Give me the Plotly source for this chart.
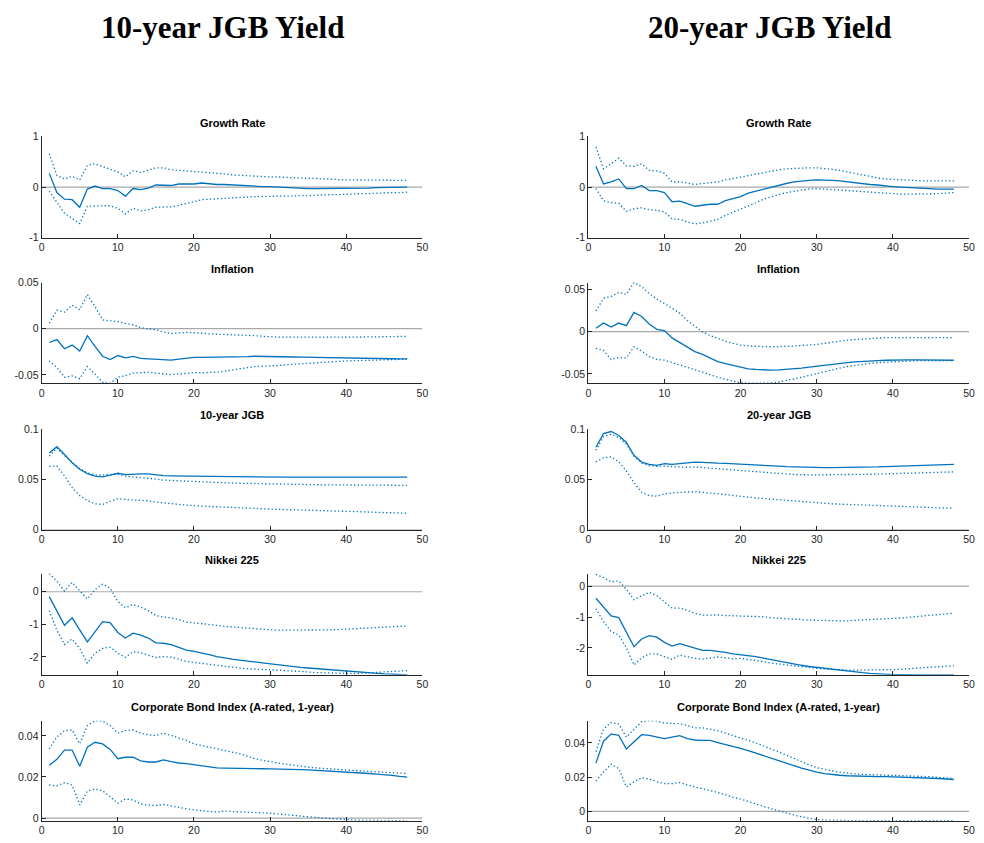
import plotly.graph_objects as go

# Horizon (periods after the shock)
horizon = list(range(1, 49))

# ---------------- 10-year JGB yield shock ----------------
growth_10_irf = [0.27, -0.11, -0.24, -0.25, -0.40, -0.04, 0.02, -0.03, -0.03, -0.07, -0.18, -0.03,
                 -0.05, -0.02, 0.04, 0.03, 0.03, 0.06, 0.06, 0.06, 0.08, 0.06, 0.05, 0.05,
                 0.04, 0.03, 0.03, 0.02, 0.01, 0.01, 0.00, -0.01, -0.02, -0.02, -0.03, -0.03,
                 -0.03, -0.03, -0.03, -0.03, -0.02, -0.02, -0.02, -0.01, -0.01, -0.01, 0.00, 0.00]
growth_10_hi = [0.66, 0.23, 0.16, 0.21, 0.14, 0.43, 0.46, 0.40, 0.35, 0.30, 0.20, 0.32,
                0.29, 0.33, 0.38, 0.38, 0.34, 0.33, 0.32, 0.31, 0.30, 0.29, 0.28, 0.26,
                0.24, 0.23, 0.22, 0.21, 0.21, 0.20, 0.20, 0.19, 0.19, 0.18, 0.17, 0.17,
                0.16, 0.16, 0.15, 0.14, 0.14, 0.14, 0.13, 0.13, 0.13, 0.13, 0.13, 0.13]
growth_10_lo = [-0.08, -0.30, -0.52, -0.62, -0.72, -0.38, -0.37, -0.37, -0.37, -0.42, -0.53, -0.42,
                -0.47, -0.45, -0.40, -0.40, -0.39, -0.36, -0.33, -0.29, -0.25, -0.24, -0.23, -0.22,
                -0.21, -0.20, -0.20, -0.19, -0.19, -0.18, -0.18, -0.18, -0.17, -0.17, -0.17, -0.16,
                -0.16, -0.15, -0.15, -0.14, -0.14, -0.13, -0.13, -0.12, -0.12, -0.11, -0.11, -0.10]

infl_10_irf = [-0.0149, -0.0117, -0.0217, -0.0177, -0.0241, -0.0075, -0.0190, -0.0298, -0.0333, -0.0290,
               -0.0316, -0.0300, -0.0320, -0.0326, -0.0326, -0.0337, -0.0340, -0.0330, -0.0316, -0.0310,
               -0.0310, -0.0310, -0.0310, -0.0310, -0.0310, -0.0305, -0.0302, -0.0298, -0.0298, -0.0300,
               -0.0302, -0.0304, -0.0306, -0.0308, -0.0310, -0.0311, -0.0313, -0.0315, -0.0317, -0.0320,
               -0.0321, -0.0322, -0.0323, -0.0324, -0.0325, -0.0325, -0.0326, -0.0326]
infl_10_hi = [0.0060, 0.0200, 0.0180, 0.0255, 0.0206, 0.0370, 0.0240, 0.0096, 0.0085, 0.0078,
              0.0057, 0.0043, 0.0014, -0.0004, -0.0010, -0.0036, -0.0053, -0.0046, -0.0039, -0.0043,
              -0.0050, -0.0057, -0.0060, -0.0062, -0.0064, -0.0068, -0.0072, -0.0075, -0.0082, -0.0089,
              -0.0090, -0.0091, -0.0092, -0.0092, -0.0092, -0.0092, -0.0092, -0.0092, -0.0092, -0.0092,
              -0.0091, -0.0091, -0.0090, -0.0089, -0.0088, -0.0086, -0.0084, -0.0082]
infl_10_lo = [-0.0348, -0.0420, -0.0525, -0.0510, -0.0540, -0.0410, -0.0490, -0.0580, -0.0590, -0.0525,
              -0.0510, -0.0480, -0.0476, -0.0470, -0.0480, -0.0490, -0.0497, -0.0490, -0.0480, -0.0476,
              -0.0476, -0.0476, -0.0470, -0.0460, -0.0450, -0.0437, -0.0422, -0.0410, -0.0408, -0.0405,
              -0.0398, -0.0390, -0.0384, -0.0377, -0.0370, -0.0366, -0.0362, -0.0358, -0.0353, -0.0348,
              -0.0346, -0.0344, -0.0341, -0.0339, -0.0337, -0.0334, -0.0332, -0.0330]

jgb_10_irf = [0.0762, 0.0824, 0.0746, 0.0664, 0.0599, 0.0557, 0.0531, 0.0524, 0.0541, 0.0560,
              0.0547, 0.0554, 0.0554, 0.0554, 0.0544, 0.0537, 0.0535, 0.0534, 0.0531, 0.0528,
              0.0526, 0.0524, 0.0523, 0.0522, 0.0521, 0.0521, 0.0521, 0.0521, 0.0521, 0.0521,
              0.0521, 0.0521, 0.0521, 0.0521, 0.0521, 0.0521, 0.0521, 0.0521, 0.0521, 0.0521,
              0.0521, 0.0521, 0.0521, 0.0521, 0.0521, 0.0521, 0.0521, 0.0521]
jgb_10_hi = [0.0730, 0.0811, 0.0736, 0.0668, 0.0606, 0.0564, 0.0544, 0.0544, 0.0544, 0.0550,
             0.0531, 0.0524, 0.0521, 0.0511, 0.0502, 0.0492, 0.0488, 0.0485, 0.0480, 0.0476,
             0.0473, 0.0471, 0.0468, 0.0466, 0.0463, 0.0461, 0.0459, 0.0457, 0.0455, 0.0453,
             0.0452, 0.0450, 0.0449, 0.0447, 0.0446, 0.0446, 0.0445, 0.0445, 0.0444, 0.0443,
             0.0443, 0.0442, 0.0442, 0.0441, 0.0441, 0.0440, 0.0440, 0.0440]
jgb_10_lo = [0.0629, 0.0632, 0.0534, 0.0420, 0.0339, 0.0290, 0.0257, 0.0251, 0.0283, 0.0306,
             0.0300, 0.0296, 0.0290, 0.0287, 0.0274, 0.0264, 0.0257, 0.0251, 0.0244, 0.0238,
             0.0234, 0.0231, 0.0228, 0.0224, 0.0221, 0.0218, 0.0215, 0.0211, 0.0208, 0.0205,
             0.0202, 0.0200, 0.0197, 0.0195, 0.0192, 0.0190, 0.0188, 0.0186, 0.0184, 0.0182,
             0.0180, 0.0178, 0.0176, 0.0175, 0.0173, 0.0170, 0.0167, 0.0163]

nikkei_10_irf = [-0.15, -0.58, -1.03, -0.80, -1.15, -1.54, -1.23, -0.92, -0.95, -1.25, -1.42, -1.27,
                 -1.33, -1.42, -1.57, -1.58, -1.62, -1.70, -1.79, -1.83, -1.87, -1.93, -1.99, -2.04,
                 -2.07, -2.10, -2.13, -2.16, -2.19, -2.22, -2.25, -2.27, -2.30, -2.32, -2.34, -2.36,
                 -2.38, -2.40, -2.42, -2.44, -2.46, -2.47, -2.49, -2.51, -2.52, -2.53, -2.54, -2.55]
nikkei_10_hi = [0.56, 0.33, 0.02, 0.29, 0.03, -0.22, 0.06, 0.23, 0.11, -0.30, -0.49, -0.39,
                -0.47, -0.58, -0.73, -0.78, -0.80, -0.85, -0.93, -0.95, -0.98, -1.01, -1.03, -1.06,
                -1.08, -1.11, -1.12, -1.14, -1.15, -1.17, -1.18, -1.18, -1.19, -1.19, -1.19, -1.18,
                -1.18, -1.17, -1.16, -1.15, -1.14, -1.13, -1.12, -1.11, -1.09, -1.08, -1.06, -1.05]
nikkei_10_lo = [-0.58, -1.18, -1.62, -1.45, -1.74, -2.19, -1.89, -1.74, -1.70, -1.89, -2.01, -1.84,
                -1.87, -1.94, -2.02, -1.99, -2.01, -2.07, -2.14, -2.17, -2.20, -2.24, -2.27, -2.29,
                -2.32, -2.34, -2.36, -2.37, -2.39, -2.40, -2.42, -2.43, -2.44, -2.45, -2.46, -2.48,
                -2.49, -2.50, -2.51, -2.51, -2.51, -2.50, -2.49, -2.48, -2.46, -2.45, -2.43, -2.42]

corp_10_irf = [0.0257, 0.0286, 0.0331, 0.0331, 0.0252, 0.0345, 0.0369, 0.0361, 0.0334, 0.0289,
               0.0296, 0.0296, 0.0278, 0.0273, 0.0273, 0.0283, 0.0275, 0.0268, 0.0265, 0.0260,
               0.0255, 0.0249, 0.0244, 0.0243, 0.0243, 0.0242, 0.0242, 0.0241, 0.0240, 0.0239,
               0.0239, 0.0238, 0.0237, 0.0236, 0.0235, 0.0233, 0.0232, 0.0230, 0.0228, 0.0225,
               0.0223, 0.0220, 0.0217, 0.0214, 0.0212, 0.0208, 0.0203, 0.0199]
corp_10_hi = [0.0337, 0.0395, 0.0425, 0.0429, 0.0361, 0.0450, 0.0474, 0.0472, 0.0450, 0.0414,
              0.0426, 0.0429, 0.0414, 0.0405, 0.0402, 0.0413, 0.0402, 0.0389, 0.0378, 0.0361,
              0.0353, 0.0345, 0.0337, 0.0329, 0.0321, 0.0313, 0.0301, 0.0289, 0.0281, 0.0273,
              0.0268, 0.0263, 0.0257, 0.0253, 0.0248, 0.0244, 0.0241, 0.0238, 0.0236, 0.0233,
              0.0231, 0.0229, 0.0227, 0.0225, 0.0223, 0.0221, 0.0219, 0.0217]
corp_10_lo = [0.0161, 0.0157, 0.0172, 0.0161, 0.0064, 0.0132, 0.0141, 0.0133, 0.0104, 0.0072,
              0.0093, 0.0088, 0.0069, 0.0063, 0.0061, 0.0066, 0.0059, 0.0051, 0.0045, 0.0040,
              0.0036, 0.0032, 0.0029, 0.0034, 0.0031, 0.0029, 0.0028, 0.0027, 0.0026, 0.0024,
              0.0020, 0.0016, 0.0012, 0.0008, 0.0005, 0.0003, 0.0000, -0.0003, -0.0006, -0.0009,
              -0.0010, -0.0011, -0.0012, -0.0012, -0.0013, -0.0013, -0.0013, -0.0013]

# ---------------- 20-year JGB yield shock ----------------
growth_20_irf = [0.41, 0.06, 0.10, 0.16, -0.03, -0.03, 0.03, -0.07, -0.07, -0.11, -0.29, -0.28,
                 -0.33, -0.38, -0.36, -0.34, -0.34, -0.27, -0.23, -0.19, -0.12, -0.08, -0.04, 0.00,
                 0.04, 0.07, 0.10, 0.12, 0.13, 0.14, 0.14, 0.13, 0.12, 0.10, 0.09, 0.07,
                 0.05, 0.04, 0.02, 0.01, 0.00, -0.01, -0.02, -0.03, -0.03, -0.04, -0.04, -0.04]
growth_20_hi = [0.79, 0.36, 0.46, 0.57, 0.42, 0.41, 0.46, 0.33, 0.32, 0.27, 0.10, 0.10,
                0.08, 0.05, 0.07, 0.08, 0.10, 0.14, 0.17, 0.20, 0.22, 0.25, 0.29, 0.32,
                0.34, 0.36, 0.37, 0.38, 0.38, 0.38, 0.37, 0.35, 0.33, 0.30, 0.27, 0.23,
                0.20, 0.18, 0.16, 0.15, 0.14, 0.13, 0.12, 0.12, 0.12, 0.12, 0.12, 0.12]
growth_20_lo = [-0.03, -0.27, -0.31, -0.32, -0.48, -0.43, -0.41, -0.45, -0.46, -0.49, -0.63, -0.64,
                -0.69, -0.73, -0.71, -0.68, -0.64, -0.56, -0.50, -0.43, -0.37, -0.31, -0.24, -0.19,
                -0.15, -0.11, -0.08, -0.06, -0.04, -0.03, -0.04, -0.05, -0.06, -0.07, -0.09, -0.10,
                -0.11, -0.12, -0.13, -0.14, -0.14, -0.14, -0.14, -0.14, -0.14, -0.13, -0.12, -0.11]

infl_20_irf = [0.0039, 0.0101, 0.0054, 0.0101, 0.0070, 0.0226, 0.0179, 0.0089, 0.0027, 0.0012,
               -0.0074, -0.0128, -0.0183, -0.0237, -0.0268, -0.0307, -0.0354, -0.0377, -0.0400, -0.0424,
               -0.0440, -0.0447, -0.0455, -0.0455, -0.0451, -0.0447, -0.0440, -0.0432, -0.0420, -0.0408,
               -0.0396, -0.0385, -0.0375, -0.0366, -0.0358, -0.0350, -0.0346, -0.0342, -0.0338, -0.0335,
               -0.0335, -0.0335, -0.0335, -0.0335, -0.0337, -0.0338, -0.0338, -0.0338]
infl_20_hi = [0.0245, 0.0393, 0.0416, 0.0463, 0.0440, 0.0580, 0.0530, 0.0450, 0.0385, 0.0335,
              0.0276, 0.0218, 0.0132, 0.0062, -0.0004, -0.0047, -0.0082, -0.0113, -0.0140, -0.0160,
              -0.0168, -0.0175, -0.0178, -0.0179, -0.0178, -0.0175, -0.0170, -0.0163, -0.0158, -0.0152,
              -0.0138, -0.0124, -0.0112, -0.0101, -0.0093, -0.0086, -0.0080, -0.0074, -0.0072, -0.0070,
              -0.0070, -0.0070, -0.0070, -0.0070, -0.0070, -0.0070, -0.0070, -0.0070]
infl_20_lo = [-0.0198, -0.0222, -0.0330, -0.0307, -0.0310, -0.0179, -0.0230, -0.0296, -0.0327, -0.0338,
              -0.0366, -0.0397, -0.0424, -0.0451, -0.0478, -0.0510, -0.0540, -0.0564, -0.0587, -0.0603,
              -0.0610, -0.0610, -0.0610, -0.0607, -0.0595, -0.0580, -0.0560, -0.0540, -0.0517, -0.0494,
              -0.0472, -0.0451, -0.0431, -0.0412, -0.0398, -0.0385, -0.0375, -0.0366, -0.0360, -0.0354,
              -0.0350, -0.0346, -0.0344, -0.0342, -0.0342, -0.0342, -0.0342, -0.0342]

jgb_20_irf = [0.0818, 0.0954, 0.0974, 0.0935, 0.0866, 0.0739, 0.0671, 0.0648, 0.0638, 0.0655,
              0.0648, 0.0655, 0.0661, 0.0671, 0.0668, 0.0661, 0.0660, 0.0658, 0.0653, 0.0648,
              0.0644, 0.0640, 0.0637, 0.0634, 0.0630, 0.0626, 0.0623, 0.0619, 0.0618, 0.0616,
              0.0616, 0.0616, 0.0616, 0.0617, 0.0618, 0.0619, 0.0621, 0.0623, 0.0626, 0.0629,
              0.0631, 0.0633, 0.0636, 0.0638, 0.0641, 0.0643, 0.0646, 0.0648]
jgb_20_hi = [0.0788, 0.0925, 0.0945, 0.0915, 0.0850, 0.0730, 0.0664, 0.0635, 0.0629, 0.0632,
             0.0625, 0.0619, 0.0619, 0.0622, 0.0616, 0.0609, 0.0603, 0.0596, 0.0590, 0.0583,
             0.0577, 0.0570, 0.0566, 0.0561, 0.0557, 0.0553, 0.0548, 0.0544, 0.0544, 0.0544,
             0.0544, 0.0544, 0.0544, 0.0545, 0.0546, 0.0547, 0.0550, 0.0552, 0.0555, 0.0557,
             0.0560, 0.0562, 0.0565, 0.0567, 0.0569, 0.0570, 0.0572, 0.0573]
jgb_20_lo = [0.0674, 0.0713, 0.0723, 0.0674, 0.0583, 0.0469, 0.0371, 0.0339, 0.0332, 0.0355,
             0.0365, 0.0371, 0.0375, 0.0378, 0.0371, 0.0365, 0.0357, 0.0349, 0.0339, 0.0329,
             0.0322, 0.0316, 0.0309, 0.0303, 0.0296, 0.0290, 0.0284, 0.0277, 0.0270, 0.0264,
             0.0261, 0.0257, 0.0254, 0.0251, 0.0248, 0.0244, 0.0242, 0.0240, 0.0237, 0.0235,
             0.0233, 0.0230, 0.0228, 0.0225, 0.0222, 0.0219, 0.0215, 0.0212]

nikkei_20_irf = [-0.39, -0.66, -0.96, -1.02, -1.47, -1.96, -1.71, -1.60, -1.65, -1.82, -1.94, -1.86,
                 -1.93, -2.01, -2.08, -2.08, -2.10, -2.14, -2.19, -2.22, -2.23, -2.28, -2.33, -2.38,
                 -2.42, -2.48, -2.52, -2.56, -2.60, -2.63, -2.67, -2.70, -2.73, -2.76, -2.78, -2.80,
                 -2.82, -2.84, -2.85, -2.86, -2.86, -2.87, -2.87, -2.87, -2.87, -2.87, -2.87, -2.87]
nikkei_20_hi = [0.38, 0.28, 0.14, 0.17, -0.10, -0.44, -0.31, -0.20, -0.31, -0.50, -0.71, -0.71,
                -0.78, -0.88, -0.94, -0.94, -0.93, -0.95, -0.96, -0.97, -0.97, -0.97, -0.99, -1.02,
                -1.03, -1.05, -1.06, -1.08, -1.10, -1.11, -1.11, -1.11, -1.12, -1.12, -1.11, -1.10,
                -1.09, -1.08, -1.06, -1.05, -1.03, -1.01, -0.98, -0.96, -0.94, -0.92, -0.89, -0.87]
nikkei_20_lo = [-0.73, -1.15, -1.47, -1.58, -2.00, -2.55, -2.32, -2.19, -2.19, -2.29, -2.37, -2.23,
                -2.29, -2.34, -2.36, -2.32, -2.29, -2.32, -2.35, -2.34, -2.37, -2.40, -2.44, -2.49,
                -2.52, -2.56, -2.59, -2.61, -2.64, -2.66, -2.68, -2.70, -2.71, -2.72, -2.72, -2.72,
                -2.72, -2.71, -2.71, -2.70, -2.69, -2.67, -2.65, -2.63, -2.62, -2.60, -2.59, -2.58]

corp_20_irf = [0.0282, 0.0410, 0.0453, 0.0444, 0.0364, 0.0406, 0.0448, 0.0444, 0.0434, 0.0425,
               0.0434, 0.0442, 0.0425, 0.0417, 0.0415, 0.0415, 0.0402, 0.0392, 0.0381, 0.0368,
               0.0355, 0.0341, 0.0326, 0.0311, 0.0296, 0.0282, 0.0267, 0.0252, 0.0239, 0.0229,
               0.0221, 0.0215, 0.0211, 0.0208, 0.0206, 0.0205, 0.0204, 0.0203, 0.0203, 0.0202,
               0.0201, 0.0200, 0.0199, 0.0197, 0.0195, 0.0192, 0.0189, 0.0186]
corp_20_hi = [0.0349, 0.0482, 0.0520, 0.0510, 0.0434, 0.0482, 0.0524, 0.0530, 0.0528, 0.0516,
              0.0516, 0.0512, 0.0501, 0.0488, 0.0488, 0.0482, 0.0472, 0.0457, 0.0444, 0.0430,
              0.0415, 0.0400, 0.0383, 0.0366, 0.0347, 0.0329, 0.0310, 0.0290, 0.0271, 0.0256,
              0.0245, 0.0236, 0.0229, 0.0223, 0.0219, 0.0216, 0.0214, 0.0212, 0.0211, 0.0210,
              0.0209, 0.0208, 0.0206, 0.0204, 0.0202, 0.0199, 0.0196, 0.0193]
corp_20_lo = [0.0177, 0.0230, 0.0276, 0.0250, 0.0143, 0.0173, 0.0196, 0.0189, 0.0173, 0.0162,
              0.0162, 0.0168, 0.0154, 0.0143, 0.0133, 0.0124, 0.0110, 0.0097, 0.0082, 0.0072,
              0.0059, 0.0044, 0.0029, 0.0015, 0.0002, -0.0010, -0.0021, -0.0032, -0.0042, -0.0048,
              -0.0051, -0.0053, -0.0054, -0.0055, -0.0055, -0.0055, -0.0055, -0.0055, -0.0055, -0.0055,
              -0.0055, -0.0055, -0.0055, -0.0055, -0.0055, -0.0055, -0.0055, -0.0055]

# Column headings and panel titles
column_titles = ["10-year JGB Yield", "20-year JGB Yield"]
panel_titles = [
    ["Growth Rate", "Inflation", "10-year JGB", "Nikkei 225", "Corporate Bond Index (A-rated, 1-year)"],
    ["Growth Rate", "Inflation", "20-year JGB", "Nikkei 225", "Corporate Bond Index (A-rated, 1-year)"],
]

# Tick labels
x_ticks = [0, 10, 20, 30, 40, 50]
y_ticks = [[-1, 0, 1], [-0.05, 0, 0.05], [0, 0.05, 0.1], [-2, -1, 0], [0, 0.02, 0.04]]
y_ticktext = [["-1", "0", "1"], ["-0.05", "0", "0.05"], ["0", "0.05", "0.1"],
              ["-2", "-1", "0"], ["0", "0.02", "0.04"]]

# Per-panel series: (irf, upper band, lower band)
series = [
    [(growth_10_irf, growth_10_hi, growth_10_lo), (infl_10_irf, infl_10_hi, infl_10_lo),
     (jgb_10_irf, jgb_10_hi, jgb_10_lo), (nikkei_10_irf, nikkei_10_hi, nikkei_10_lo),
     (corp_10_irf, corp_10_hi, corp_10_lo)],
    [(growth_20_irf, growth_20_hi, growth_20_lo), (infl_20_irf, infl_20_hi, infl_20_lo),
     (jgb_20_irf, jgb_20_hi, jgb_20_lo), (nikkei_20_irf, nikkei_20_hi, nikkei_20_lo),
     (corp_20_irf, corp_20_hi, corp_20_lo)],
]

# Y-axis limits of each panel
y_ranges = [
    [[-1, 1], [-0.059, 0.05], [0, 0.1], [-2.55, 0.56], [-0.0013, 0.0474]],
    [[-1, 1], [-0.061, 0.058], [0, 0.1], [-2.87, 0.41], [-0.0055, 0.053]],
]

# ---------------- layout geometry (pixels) ----------------
W, H = 984, 843
col_px = [(39.0, 423.3), (590.7, 975.0)]
row_px = [(132.3, 235.0), (280.5, 382.7), (429.0, 531.3), (575.7, 678.5), (725.0, 826.5)]

BLUE = "#0072BD"
AX = "#262626"
FONT = "Liberation Sans, Arial, Helvetica, sans-serif"

fig = go.Figure()
layout = dict(
    width=W, height=H,
    margin=dict(l=0, r=0, t=0, b=0),
    paper_bgcolor="white", plot_bgcolor="white",
    showlegend=False,
    font=dict(family=FONT, size=10, color=AX),
)
annotations = []
shapes = []

k = 0
for c in range(2):
    x0, x1 = col_px[c]
    for r in range(5):
        k += 1
        ytop, ybot = row_px[r]
        xa = "xaxis" if k == 1 else f"xaxis{k}"
        ya = "yaxis" if k == 1 else f"yaxis{k}"
        xr = "x" if k == 1 else f"x{k}"
        yr = "y" if k == 1 else f"y{k}"

        layout[xa] = dict(
            domain=[x0 / W, x1 / W], anchor=yr, range=[0, 50],
            tickvals=x_ticks, ticktext=[str(v) for v in x_ticks],
            ticks="inside", ticklen=4, tickcolor=AX, tickwidth=1,
            showline=True, linecolor=AX, linewidth=1, mirror=False,
            showgrid=False, zeroline=False,
            tickfont=dict(family=FONT, size=10.5, color=AX),
            fixedrange=True,
        )
        layout[ya] = dict(
            domain=[1 - ybot / H, 1 - ytop / H], anchor=xr, range=y_ranges[c][r],
            tickvals=y_ticks[r], ticktext=y_ticktext[r],
            ticks="inside", ticklen=4, tickcolor=AX, tickwidth=1,
            showline=True, linecolor=AX, linewidth=1, mirror=False,
            showgrid=False, zeroline=False,
            tickfont=dict(family=FONT, size=10.5, color=AX),
            fixedrange=True,
        )

        # zero reference line
        shapes.append(dict(type="line", xref=xr, yref=yr, x0=0, x1=50, y0=0, y1=0,
                           line=dict(color="#a8a8a8", width=1.2), layer="below"))

        irf, hi, lo = series[c][r]
        for vals, dash in ((hi, "1.3px,2.4px"), (lo, "1.3px,2.4px"), (irf, "solid")):
            fig.add_trace(go.Scatter(
                x=horizon, y=vals, mode="lines", xaxis=xr, yaxis=yr,
                line=dict(color=BLUE, width=1.3, dash=dash),
                hoverinfo="skip",
            ))

        annotations.append(dict(
            text=f"<b>{panel_titles[c][r]}</b>", xref="paper", yref="paper",
            x=(x0 + x1) / 2 / W, y=1 - (ytop - 14) / H,
            xanchor="center", yanchor="middle", showarrow=False,
            font=dict(family=FONT, size=11, color="#000000"),
        ))

# column headings
for c, (cx, t) in enumerate(zip([222.0, 773.5], column_titles)):
    annotations.append(dict(
        text=f"<b>{t}</b>", xref="paper", yref="paper",
        x=cx / W, y=1 - 22 / H, xanchor="center", yanchor="middle", showarrow=False,
        font=dict(family="Liberation Serif, Times New Roman, serif", size=31, color="#000000"),
    ))

layout["annotations"] = annotations
layout["shapes"] = shapes
fig.update_layout(**layout)

fig.write_html("out.html")
